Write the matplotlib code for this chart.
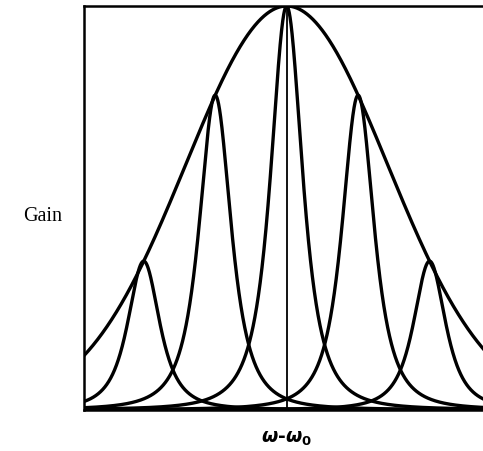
import numpy as np
import matplotlib.pyplot as plt

# homogeneous lines under an inhomogeneous (gaussian) envelope
peak_centers = [-2.0, -1.0, 0.0, 1.0, 2.0]
peak_heights = [0.368, 0.779, 1.0, 0.779, 0.368]
line_width = 0.344      # width of each homogeneous line (spacing units)
line_power = 1.5
envelope_width = 2.0    # envelope ~ exp(-(x/w)^2)
x_left, x_right = -2.835, 2.745

plt.rcParams['mathtext.fontset'] = 'custom'
plt.rcParams['mathtext.it'] = 'DejaVu Sans:bold:italic'
plt.rcParams['mathtext.rm'] = 'DejaVu Sans:bold'
plt.rcParams['mathtext.bf'] = 'DejaVu Sans:bold'

fig = plt.figure(figsize=(4.83, 4.52), dpi=100)
ax = fig.add_axes([0.174, 0.0914, 0.836, 0.8931])

x = np.linspace(x_left, x_right + 0.1, 3000)
env = np.exp(-(x / envelope_width) ** 2)
ax.plot(x, env, color='black', lw=2.4)
for c, h in zip(peak_centers, peak_heights):
    prof = (1 + ((x - c) / line_width) ** 2) ** (-line_power)
    ax.plot(x, h * prof, color='black', lw=2.4)

ax.axvline(0, color='black', lw=1.3)

ax.set_xlim(x_left, x_right + 0.07)
ax.set_ylim(0, 1.0)
ax.set_xticks([])
ax.set_yticks([])
for s in ['left', 'bottom', 'top']:
    ax.spines[s].set_linewidth(1.8)
ax.spines['right'].set_visible(False)

fig.text(0.088, 0.52, 'Gain', family='Liberation Serif', fontsize=14.5,
         ha='center', va='center')
fig.text(0.594, 0.03, r'$\omega$-$\omega_0$', fontsize=13.5, fontweight='bold',
         ha='center', va='center')

fig.savefig('out.png', dpi=100)
